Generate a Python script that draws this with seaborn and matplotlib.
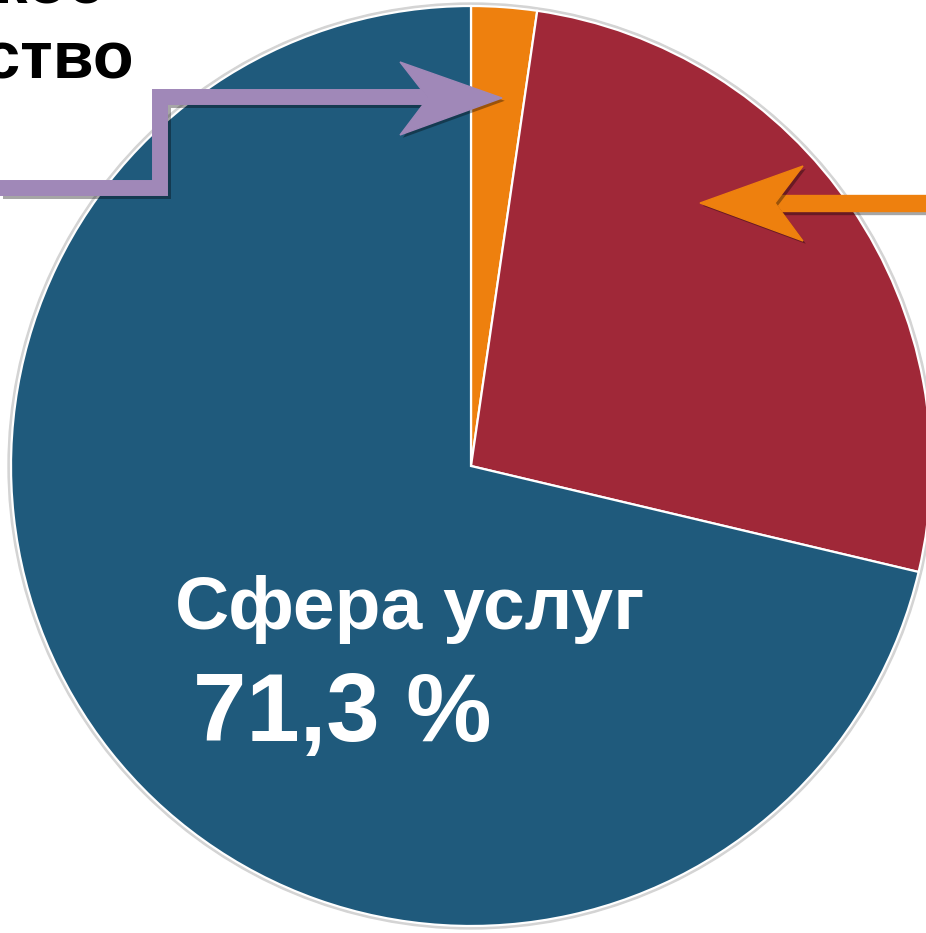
import matplotlib
matplotlib.use("Agg")
import matplotlib.pyplot as plt
import matplotlib.patheffects as pe
from matplotlib.patches import Polygon, Circle
import seaborn as sns

# ---- data ----
categories = ["Сельское хозяйство", "Промышленность", "Сфера услуг"]
shares = [2.3, 26.4, 71.3]
colors = ["#EE800E", "#A02838", "#1F5A7C"]
label_main = "Сфера услуг"
label_value = "71,3 %"

sns.set_theme(style="white")
plt.rcParams["font.family"] = ["Liberation Sans", "DejaVu Sans"]

W, H = 926, 933
fig = plt.figure(figsize=(W / 100, H / 100), dpi=100)
ax = fig.add_axes([0, 0, 1, 1])

def Y(y):
    return H - y

cx, cy, r = 471, 466, 460

# soft rim behind the pie
ax.add_patch(Circle((cx, Y(cy)), r + 3, color="#d4d4d4", zorder=0))

ax.pie(shares, colors=colors, startangle=90, counterclock=False,
       center=(cx, Y(cy)), radius=r, frame=True,
       wedgeprops=dict(edgecolor="white", linewidth=1.6))
ax.set_xlim(0, W)
ax.set_ylim(0, H)
ax.set_aspect("equal")
ax.axis("off")

# texts
ax.text(175, Y(629), label_main, color="white", fontsize=54, fontweight="bold",
        ha="left", va="baseline", zorder=5)
ax.text(193, Y(741), label_value, color="white", fontsize=69, fontweight="bold",
        ha="left", va="baseline", zorder=5)
ax.text(105, Y(3), "Сельское", color="black", fontsize=48, fontweight="bold",
        ha="right", va="baseline", zorder=5)
ax.text(134, Y(78), "хозяйство", color="black", fontsize=48, fontweight="bold",
        ha="right", va="baseline", zorder=5)

shadow_line = [pe.SimpleLineShadow(offset=(2, -2), shadow_color="black", alpha=0.35),
               pe.Normal()]
shadow_patch = [pe.SimplePatchShadow(offset=(2, -2), shadow_rgbFace="black", alpha=0.35),
                pe.Normal()]

# purple arrow
purple = "#A088B8"
xs = [0, 160, 160, 430]
ys = [188, 188, 97, 97]
ax.plot(xs, [Y(v) for v in ys], color=purple, lw=11.5,
        solid_joinstyle="miter", solid_capstyle="butt", zorder=6,
        path_effects=shadow_line)
head = [(400, 62), (502, 98), (400, 135), (428, 98)]
ax.add_patch(Polygon([(x, Y(y)) for x, y in head], closed=True, color=purple,
                     zorder=7, path_effects=shadow_patch))

# orange arrow
orange = "#EE800E"
ax.plot([775, W + 5], [Y(203), Y(203)], color=orange, lw=12.5,
        solid_capstyle="butt", zorder=6, path_effects=shadow_line)
head2 = [(700, 203), (803, 166), (775, 203), (803, 241)]
ax.add_patch(Polygon([(x, Y(y)) for x, y in head2], closed=True, color=orange,
                     zorder=7, path_effects=shadow_patch))

fig.savefig("out.png", dpi=100)
